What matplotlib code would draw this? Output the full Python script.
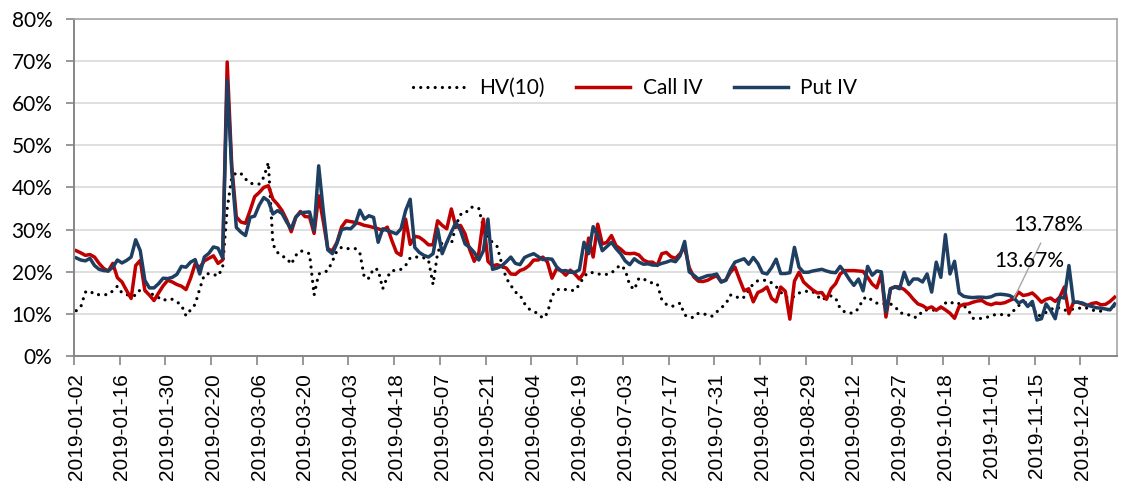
import numpy as np
import pandas as pd
import matplotlib
matplotlib.use("Agg")
import matplotlib.pyplot as plt
from matplotlib.ticker import PercentFormatter

# trading days (SSE calendar 2019); a few days are missing from the source data
holidays = ['2019-02-04', '2019-02-05', '2019-02-06', '2019-02-07', '2019-02-08',
            '2019-04-05', '2019-05-01', '2019-05-02', '2019-05-03', '2019-06-07',
            '2019-09-13', '2019-10-01', '2019-10-02', '2019-10-03', '2019-10-04',
            '2019-10-07']
missing_days = ['2019-08-22', '2019-11-29', '2019-12-02', '2019-12-03']
n_days = 228
days = pd.bdate_range('2019-01-02', '2019-12-31')
days = days[~days.isin(pd.to_datetime(holidays + missing_days))][:n_days]
day_labels = list(days.strftime('%Y-%m-%d'))
label_step = 10

# values in %
hv10 = [10.8, 11.7, 15.2, 15.5, 14.6, 14.6, 14.6, 14.6, 15.5, 16.6,
        15.0, 14.6, 14.4, 14.4, 15.8, 15.5, 15.0, 14.5, 13.9, 13.2,
        13.6, 13.5, 12.9, 12.1, 9.6, 11.0, 12.3, 16.0, 19.3, 19.6,
        19.4, 19.0, 21.0, 35.0, 42.4, 43.5, 43.3, 42.0, 41.0, 40.8,
        40.8, 42.4, 45.9, 26.5, 24.6, 23.7, 23.3, 21.8, 23.9, 25.0,
        24.7, 24.3, 14.5, 19.5, 19.8, 20.3, 22.5, 25.0, 25.8, 25.5,
        25.5, 25.5, 24.5, 18.5, 18.5, 20.8, 20.5, 16.0, 18.8, 20.3,
        20.3, 20.6, 21.5, 23.3, 23.5, 23.5, 23.3, 22.8, 17.0, 24.5,
        27.0, 27.4, 26.6, 31.0, 33.6, 33.7, 35.2, 35.4, 35.0, 30.5,
        28.0, 27.0, 26.0, 22.0, 18.5, 16.8, 15.2, 14.5, 12.5, 11.2,
        10.6, 10.1, 9.0, 10.2, 14.3, 15.7, 16.0, 15.8, 15.6, 15.6,
        17.0, 18.9, 19.9, 19.8, 19.5, 19.4, 19.4, 19.7, 20.8, 21.6,
        20.5, 16.8, 15.8, 18.5, 18.3, 17.8, 17.3, 17.2, 13.4, 12.3,
        11.8, 12.0, 12.6, 9.8, 9.2, 9.2, 10.2, 10.0, 9.9, 9.5,
        10.5, 11.5, 12.4, 14.5, 14.4, 13.6, 14.0, 15.6, 17.2, 17.9,
        18.0, 18.0, 17.4, 16.5, 15.2, 14.1, 13.7, 14.2, 15.0, 15.2,
        15.5, 15.3, 14.3, 13.3, 14.0, 14.3, 13.8, 11.3, 10.5, 10.2,
        10.3, 11.3, 13.6, 14.1, 13.2, 12.6, 12.4, 12.4, 12.4, 11.8,
        10.3, 10.1, 9.8, 9.2, 9.3, 10.8, 11.0, 10.9, 11.0, 11.5,
        12.6, 13.0, 12.3, 12.5, 12.0, 11.0, 9.0, 8.9, 9.0, 9.2,
        9.6, 9.9, 9.9, 9.8, 9.7, 10.9, 12.0, 12.6, 12.8, 12.0,
        9.6, 9.7, 10.4, 11.0, 11.7, 11.4, 10.9, 11.0, 11.2, 11.3,
        11.6, 11.4, 11.0, 10.7, 10.7, 10.9, 11.2, 12.0]

call_iv = [25.0, 24.5, 23.9, 24.1, 23.5, 22.0, 20.8, 20.2, 22.0, 18.6,
           17.6, 15.6, 13.7, 21.5, 22.7, 15.6, 14.5, 13.2, 15.0, 16.7,
           18.0, 17.6, 17.0, 16.6, 15.8, 18.5, 21.9, 21.0, 22.6, 23.2,
           23.8, 22.0, 22.8, 69.7, 45.0, 33.0, 31.8, 31.5, 34.5, 37.8,
           38.8, 40.0, 40.4, 37.2, 36.0, 34.5, 32.3, 29.5, 32.9, 34.3,
           33.1, 33.0, 29.1, 38.0, 32.0, 25.4, 25.0, 27.0, 30.6, 32.1,
           31.9, 31.7, 31.4, 31.0, 30.8, 30.5, 30.2, 29.8, 30.6, 27.4,
           24.6, 23.9, 32.5, 26.5, 28.4, 28.2, 27.4, 26.4, 26.4, 32.1,
           31.0, 30.2, 34.9, 30.6, 31.0, 29.0, 25.3, 22.5, 24.5, 32.5,
           22.5, 21.4, 21.7, 21.3, 20.9, 19.5, 19.4, 20.3, 20.7, 21.5,
           22.8, 22.8, 23.5, 22.3, 18.5, 20.7, 20.3, 19.2, 20.4, 19.5,
           18.3, 19.8, 28.0, 23.5, 31.3, 26.6, 27.0, 28.6, 26.2, 25.4,
           24.4, 24.3, 24.4, 24.0, 22.8, 22.3, 22.3, 21.5, 24.3, 24.6,
           23.6, 23.2, 24.3, 25.8, 21.0, 18.8, 17.8, 17.7, 18.0, 18.6,
           19.1, 17.6, 18.1, 19.9, 21.1, 18.2, 15.5, 16.0, 12.9, 15.1,
           15.6, 16.4, 13.7, 12.9, 16.4, 15.4, 8.8, 17.8, 19.9, 17.6,
           16.6, 15.7, 15.0, 15.1, 13.5, 16.0, 17.2, 19.5, 20.3, 20.3,
           20.3, 20.2, 20.1, 18.7, 17.1, 16.2, 19.5, 9.3, 16.0, 16.5,
           16.4, 15.8, 14.8, 13.5, 12.4, 12.0, 11.3, 11.7, 10.9, 11.7,
           11.0, 10.2, 9.0, 11.8, 12.3, 12.4, 12.8, 13.1, 13.2, 12.5,
           12.2, 12.6, 12.5, 12.7, 13.2, 13.67, 15.2, 14.4, 14.6, 15.0,
           14.0, 12.8, 13.5, 13.8, 13.0, 14.0, 16.4, 10.1, 12.8, 12.8,
           12.4, 12.0, 12.5, 12.7, 12.2, 12.3, 13.0, 14.0]

put_iv = [23.3, 22.8, 22.6, 23.2, 21.5, 20.6, 20.3, 20.2, 21.1, 22.8,
          22.1, 22.7, 23.5, 27.6, 25.0, 18.0, 16.2, 16.2, 17.2, 18.5,
          18.4, 18.7, 19.4, 21.3, 21.1, 22.3, 22.9, 19.5, 23.5, 24.4,
          25.9, 25.6, 23.3, 65.4, 44.0, 30.5, 29.4, 28.6, 32.9, 33.2,
          35.8, 37.6, 36.8, 33.7, 34.5, 33.8, 31.8, 30.2, 33.0, 34.0,
          34.1, 34.2, 29.8, 45.1, 34.5, 25.2, 24.3, 26.8, 30.0, 30.3,
          30.2, 31.3, 34.6, 32.5, 33.3, 32.9, 27.0, 30.2, 29.8, 29.4,
          29.0, 30.2, 34.5, 37.2, 25.8, 24.6, 23.9, 23.5, 24.3, 30.2,
          24.3, 27.0, 29.4, 31.7, 29.8, 26.6, 25.8, 24.6, 22.8, 25.0,
          32.5, 20.6, 20.9, 21.4, 22.4, 23.5, 22.0, 21.7, 23.4, 23.9,
          24.3, 23.6, 22.9, 23.1, 23.0, 21.2, 20.2, 20.3, 19.9, 19.9,
          20.5, 27.0, 24.3, 30.7, 28.5, 25.0, 26.0, 27.0, 25.5, 24.3,
          22.6, 21.7, 23.1, 22.3, 21.8, 21.9, 21.6, 21.6, 22.0, 22.3,
          22.7, 22.4, 23.8, 27.2, 20.0, 19.2, 18.3, 18.7, 19.1, 19.2,
          19.5, 17.6, 18.0, 20.5, 22.3, 22.7, 23.1, 21.8, 23.4, 22.0,
          19.8, 19.5, 21.0, 23.0, 19.6, 19.6, 19.8, 25.8, 21.1, 19.9,
          19.9, 20.2, 20.4, 20.6, 20.2, 19.9, 19.8, 21.3, 19.9, 18.2,
          16.8, 18.3, 15.5, 21.3, 19.2, 20.2, 20.0, 10.5, 16.0, 16.4,
          16.0, 19.9, 17.0, 18.3, 18.3, 17.6, 19.5, 15.2, 22.3, 18.7,
          28.8, 19.5, 22.5, 15.0, 14.2, 14.0, 13.9, 14.0, 14.0, 13.9,
          14.1, 14.6, 14.7, 14.6, 14.4, 13.78, 12.6, 13.2, 11.8, 13.0,
          8.6, 8.9, 12.4, 10.9, 8.9, 14.0, 13.8, 21.5, 12.8, 12.8,
          12.6, 12.1, 11.8, 11.5, 11.4, 11.2, 11.0, 12.4]

label_idx = 205  # point carrying the two data labels

hv10 = np.array(hv10) / 100
call_iv = np.array(call_iv) / 100
put_iv = np.array(put_iv) / 100
x = np.arange(n_days)

fig = plt.figure(figsize=(11.22, 4.82), dpi=100)
ax = fig.add_axes([0.0659, 0.2608, 0.9296, 0.7008])

ax.plot(x, hv10, color='black', lw=2.3, ls=(0, (0.01, 2.25)),
        dash_capstyle='round', label='HV(10)')
ax.plot(x, call_iv, color='#C00000', lw=2.5, label='Call IV')
ax.plot(x, put_iv, color='#1E3F62', lw=2.5, label='Put IV')

ax.set_xlim(-0.5, n_days - 0.5)
ax.set_ylim(0, 0.8)
ax.set_yticks(np.arange(0, 0.81, 0.1))
ax.yaxis.set_major_formatter(PercentFormatter(1.0, decimals=0))
ax.yaxis.grid(True, color='#D9D9D9', lw=1.2)
ax.set_axisbelow(True)

pos = list(range(0, n_days, label_step))
ax.set_xticks(pos)
ax.set_xticklabels([day_labels[p] for p in pos], rotation=90,
                   fontfamily='Liberation Sans', fontsize=15)
ax.set_xticks([p - 0.5 for p in pos], minor=True)
ax.tick_params(axis='x', which='major', length=0, pad=12)
ax.tick_params(axis='x', which='minor', length=6.5, width=1.2, color='#868686')
ax.tick_params(axis='y', length=5.5, width=1.2, color='#868686', pad=10,
               labelsize=15)
for t in ax.get_yticklabels():
    t.set_fontfamily('Lato')

for s in ['left', 'bottom']:
    ax.spines[s].set_color('#868686')
    ax.spines[s].set_linewidth(1.4)
for s in ['top', 'right']:
    ax.spines[s].set_color('#A6A6A6')
    ax.spines[s].set_linewidth(1.2)

ax.legend(loc='center', bbox_to_anchor=(0.538, 0.794), ncol=3, frameon=False,
          prop={'family': 'Lato', 'size': 15}, handlelength=2.6,
          handletextpad=0.6, columnspacing=1.5)

ax.annotate(f'{put_iv[label_idx]:.2%}', xy=(label_idx, put_iv[label_idx]),
            xytext=(24.5, 52.5), textcoords='offset points',
            ha='center', va='center', fontsize=15, fontfamily='Lato',
            arrowprops=dict(arrowstyle='-', color='#A6A6A6', lw=1,
                            relpos=(0.45, 0), shrinkA=4, shrinkB=0))
ax.annotate(f'{call_iv[label_idx]:.2%}', xy=(label_idx, call_iv[label_idx]),
            xytext=(11, 27), textcoords='offset points',
            ha='center', va='center', fontsize=15, fontfamily='Lato')

fig.savefig('out.png', dpi=100)
